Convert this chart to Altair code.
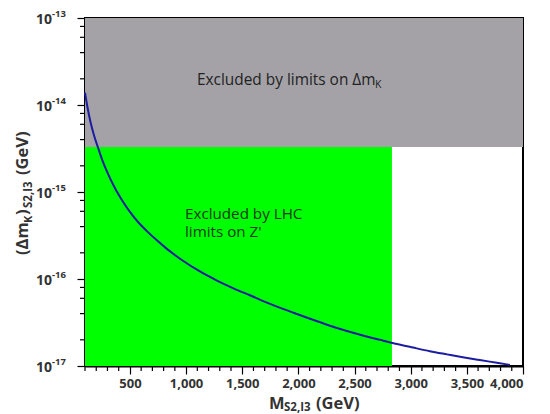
import altair as alt
import pandas as pd

# ---- data ----
M_vals = [100, 125, 150, 180, 215, 260, 300, 350, 420, 500, 580, 651, 740, 829, 900, 972,
          1123, 1275, 1417, 1569, 1720, 1862, 1987, 2130, 2281, 2432, 2575, 2726, 2878,
          3020, 3171, 3323, 3464, 3616, 3767, 3883]
dm_vals = [1.39e-14, 9.0e-15, 6.3e-15, 4.5e-15, 3.27e-15, 2.22e-15, 1.67e-15, 1.22e-15,
           8.4e-16, 5.9e-16, 4.4e-16, 3.55e-16, 2.78e-16, 2.22e-16, 1.89e-16, 1.62e-16,
           1.22e-16, 9.6e-17, 7.87e-17, 6.5e-17, 5.36e-17, 4.54e-17, 3.96e-17, 3.4e-17,
           2.9e-17, 2.52e-17, 2.24e-17, 2.0e-17, 1.79e-17, 1.63e-17, 1.48e-17, 1.36e-17,
           1.26e-17, 1.17e-17, 1.09e-17, 1.03e-17]

region_names = ["limits on Δm_K", "LHC limits on Z'"]
region_x1 = [100, 100]
region_x2 = [4000, 2833]
region_y1 = [3.3e-15, 1e-17]
region_y2 = [1e-13, 3.3e-15]
region_colors = ["#a4a2a7", "#00ff00"]

x_major = [500, 1000, 1500, 2000, 2500, 3000, 3500, 4000]
x_minor = [v for v in range(100, 4001, 100) if v % 500 != 0]
y_major = [1e-13, 1e-14, 1e-15, 1e-16, 1e-17]
y_exp = ["-13", "-14", "-15", "-16", "-17"]
y_minor = [m * 10.0 ** e for e in range(-17, -13) for m in (2, 4, 6, 8)]

W, H = 438, 348
FONT = "Open Sans"

sx = alt.Scale(domain=[100, 4000], nice=False, zero=False)
sy = alt.Scale(type="log", domain=[1e-17, 1e-13], nice=False)
ax_x = alt.Axis(values=x_major, format=",d", title=None, grid=False, tickSize=8,
                tickColor="black", tickWidth=1.2, domainColor="black", domainWidth=2,
                labelFont=FONT, labelFontWeight="bold", labelFontSize=13,
                labelColor="#333333", labelPadding=3)
ax_y = alt.Axis(values=y_major, labels=False, title=None, grid=False, tickSize=8,
                tickColor="black", tickWidth=1.2, domainColor="black", domainWidth=2)


def X(f, **kw):
    return alt.X(f, scale=sx, axis=ax_x, **kw)


def Y(f, **kw):
    return alt.Y(f, scale=sy, axis=ax_y, **kw)


regions = pd.DataFrame({"name": region_names, "x1": region_x1, "x2": region_x2,
                        "y1": region_y1, "y2": region_y2, "c": region_colors})
rects = alt.Chart(regions).mark_rect(strokeWidth=0).encode(
    x=X("x1:Q"), x2="x2:Q", y=Y("y1:Q"), y2="y2:Q",
    color=alt.Color("c:N", scale=None))

curve = alt.Chart(pd.DataFrame({"M": M_vals, "dm": dm_vals})).mark_line(
    color="#1c1ca0", strokeWidth=2, interpolate="monotone").encode(
    x=X("M:Q"), y=Y("dm:Q"))

xminor = alt.Chart(pd.DataFrame({"v": x_minor})).mark_rule(
    color="black", strokeWidth=1.2).encode(
    x=X("v:Q"), y=alt.value(H), y2=alt.value(H + 5))
yminor = alt.Chart(pd.DataFrame({"v": y_minor})).mark_rule(
    color="black", strokeWidth=1.2).encode(
    y=Y("v:Q"), x=alt.value(-5), x2=alt.value(0))

ylab_df = pd.DataFrame({"v": y_major, "e": y_exp})
ylab10 = alt.Chart(ylab_df).mark_text(
    text="10", align="right", baseline="middle", font=FONT, fontWeight="bold",
    fontSize=14, color="#333333", dy=2).encode(y=Y("v:Q"), x=alt.value(-33))
ylabexp = alt.Chart(ylab_df).mark_text(
    align="left", baseline="middle", font=FONT, fontWeight="bold",
    fontSize=9.5, color="#333333", dy=-4).encode(
    y=Y("v:Q"), x=alt.value(-33), text="e:N")


def txt(s, x, y, size, color="#222222", weight="normal", angle=0, align="left"):
    return alt.Chart(pd.DataFrame({"t": [s]})).mark_text(
        align=align, baseline="alphabetic", font=FONT, fontSize=size,
        fontWeight=weight, color=color, angle=angle, lineBreak="\n",
        lineHeight=18).encode(
        x=alt.value(x), y=alt.value(y), text="t:N")


annots = [
    txt("Excluded by limits on Δm", 112, 67, 15.4),
    txt("K", 290, 70, 10.5),
    txt("Excluded by LHC\nlimits on Z'", 100, 201, 15.2, color="#163816"),
    # x title
    txt("M", 184, 391, 16.5, color="#333333", weight="bold"),
    txt("S2,I3", 199, 392.5, 11.5, color="#333333", weight="bold"),
    txt("(GeV)", 231, 391, 16.5, color="#333333", weight="bold"),
    # y title (rotated)
    txt("(Δm", -57, 237, 16.5, color="#333333", weight="bold", angle=270),
    txt("K", -53, 205, 11, color="#333333", weight="bold", angle=270),
    txt(")", -57, 197, 16.5, color="#333333", weight="bold", angle=270),
    txt("S2,I3", -53, 190, 11.5, color="#333333", weight="bold", angle=270),
    txt("(GeV)", -57, 157, 16.5, color="#333333", weight="bold", angle=270),
]

chart = alt.layer(rects, curve, xminor, yminor, ylab10, ylabexp, *annots).properties(
    width=W, height=H,
    autosize=alt.AutoSizeParams(type="none"),
    padding={"left": 85, "top": 18, "right": 550 - 85 - W, "bottom": 414 - 18 - H},
    background="white",
).configure_view(stroke="black", strokeWidth=2)

chart.save("out.html", embed_options={"renderer": "svg", "actions": False})
